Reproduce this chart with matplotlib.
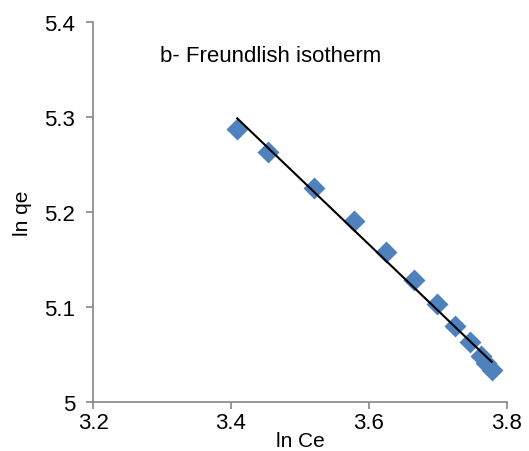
import numpy as np
import matplotlib
matplotlib.use("Agg")
import matplotlib.pyplot as plt

plt.rcParams["font.family"] = ["Liberation Sans", "DejaVu Sans"]

# ln Ce / ln qe
ln_ce = [3.409, 3.454, 3.521, 3.578, 3.625, 3.665, 3.699, 3.725, 3.746, 3.762, 3.770, 3.778]
ln_qe = [5.287, 5.263, 5.225, 5.190, 5.158, 5.128, 5.103, 5.080, 5.063, 5.049, 5.041, 5.034]

x_ticks = [3.2, 3.4, 3.6, 3.8]
y_ticks = [5, 5.1, 5.2, 5.3, 5.4]
y_tick_labels = ["5", "5.1", "5.2", "5.3", "5.4"]

fig = plt.figure(figsize=(5.29, 4.52), dpi=100)
ax = fig.add_axes([0.176, 0.108, 0.782, 0.842])

ax.scatter(ln_ce, ln_qe, marker="D", s=125, color="#4F81BD", zorder=2, linewidths=0)

# linear trend line
slope, intercept = np.polyfit(ln_ce, ln_qe, 1)
xl = np.array([min(ln_ce), max(ln_ce)])
ax.plot(xl, slope * xl + intercept, color="black", lw=1.5, zorder=3)

ax.set_xlim(3.2, 3.8)
ax.set_ylim(5, 5.4)
ax.set_xticks(x_ticks)
ax.set_xticklabels([str(v) for v in x_ticks])
ax.set_yticks(y_ticks)
ax.set_yticklabels(y_tick_labels)

for s in ["top", "right"]:
    ax.spines[s].set_visible(False)
for s in ["left", "bottom"]:
    ax.spines[s].set_color("#868686")
    ax.spines[s].set_linewidth(1.2)
ax.tick_params(colors="#868686", labelcolor="black", labelsize=16, length=5, width=1.2, direction="out")
ax.tick_params(axis="y", pad=8)
ax.tick_params(axis="x", pad=2)

ax.set_xlabel("ln Ce", fontsize=15, labelpad=-1.5)
ax.set_ylabel("ln qe", fontsize=15, labelpad=9)
ax.text(0.428, 0.91, "b- Freundlish isotherm", transform=ax.transAxes, ha="center", va="center", fontsize=16)

fig.savefig("out.png", dpi=100)
